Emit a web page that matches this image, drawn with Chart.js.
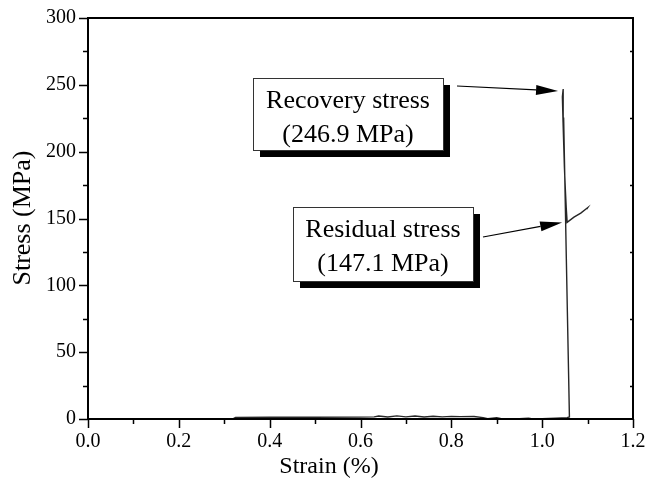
<!DOCTYPE html>
<html>
<head>
<meta charset="utf-8">
<script src="https://cdn.jsdelivr.net/npm/chart.js@4/dist/chart.umd.min.js"></script>
<style>
  html, body { margin: 0; padding: 0; background: #ffffff; }
  #wrap { width: 647px; height: 490px; }
</style>
</head>
<body>
<div id="wrap"><canvas id="c" width="647" height="490"></canvas></div>
<script>
// Constrained recovery test: stress vs. strain
const strain = [
  0.320, 0.325, 0.400, 0.500, 0.600, 0.630, 0.640, 0.660, 0.680, 0.700,
  0.720, 0.740, 0.760, 0.780, 0.800, 0.820, 0.850, 0.870, 0.880, 0.900,
  0.910, 0.930, 0.950, 0.970, 0.980, 1.000, 1.030, 1.055, 1.060, 1.0584,
  1.0555, 1.0532, 1.0507, 1.0490, 1.0473, 1.0465, 1.0460, 1.0445, 1.0460, 1.0475,
  1.0490, 1.0510, 1.0530, 1.0550, 1.0700, 1.0850, 1.1000, 1.0980
];
const stress = [
  0.3, 1.2, 1.3, 1.3, 1.4, 1.6, 2.2, 1.5, 2.3, 1.6,
  2.2, 1.5, 2.1, 1.6, 2.0, 1.8, 1.9, 1.0, 0.3, 0.9,
  0.2, 0.1, 0.2, 0.6, 0.1, 0.2, 0.6, 1.0, 1.5, 30,
  80, 120, 165, 195, 225, 238, 246.9, 241, 222, 205,
  188, 172, 158, 147.1, 151, 154, 158, 157
];
const xTickValues = [0.0, 0.2, 0.4, 0.6, 0.8, 1.0, 1.2];
const yTickValues = [0, 50, 100, 150, 200, 250, 300];
const xTitle = 'Strain (%)';
const yTitle = 'Stress (MPa)';

// Annotated points
const recoveryStrain = 1.046, recoveryStress = 246.9;
const residualStrain = 1.055, residualStress = 147.1;
const recoveryLabel = ['Recovery stress', '(' + recoveryStress.toFixed(1) + ' MPa)'];
const residualLabel = ['Residual stress', '(' + residualStress.toFixed(1) + ' MPa)'];

const SERIF = '"Liberation Serif", "Times New Roman", serif';

// Axis frame with outward major/minor ticks on the left and bottom, plus axis titles
const framePlugin = {
  id: 'frame',
  afterDatasetsDraw(chart) {
    const { ctx, chartArea: a, scales: { x, y } } = chart;
    ctx.save();
    ctx.strokeStyle = '#000';
    ctx.lineWidth = 2;
    ctx.strokeRect(a.left, a.top, a.right - a.left, a.bottom - a.top);
    ctx.lineWidth = 1.5;
    ctx.beginPath();
    for (let v = 0; v <= 300.001; v += 25) {
      const py = Math.round(y.getPixelForValue(v)) + 0.5;
      const major = Math.abs(v % 50) < 1e-6;
      ctx.moveTo(a.left, py); ctx.lineTo(a.left - (major ? 9 : 5), py);
      if (!major) { ctx.moveTo(a.right, py); ctx.lineTo(a.right - 3, py); }
    }
    for (let i = 0; i <= 12; i++) {
      const v = i * 0.1;
      const px = Math.round(x.getPixelForValue(v)) + 0.5;
      const major = i % 2 === 0;
      ctx.moveTo(px, a.bottom); ctx.lineTo(px, a.bottom + (major ? 9 : 5));
    }
    ctx.stroke();

    ctx.fillStyle = '#000';
    ctx.textAlign = 'center';
    ctx.textBaseline = 'middle';
    ctx.font = '24px ' + SERIF;
    ctx.fillText(xTitle, 329, 467);
    ctx.translate(23, 218);
    ctx.rotate(-Math.PI / 2);
    ctx.font = '26px ' + SERIF;
    ctx.fillText(yTitle, 0, 0);
    ctx.restore();
  }
};

function drawArrow(ctx, x0, y0, x1, y1) {
  const ang = Math.atan2(y1 - y0, x1 - x0);
  const hl = 22, hw = 5;
  const bx = x1 - hl * Math.cos(ang), by = y1 - hl * Math.sin(ang);
  ctx.beginPath();
  ctx.moveTo(x0, y0); ctx.lineTo(bx, by);
  ctx.stroke();
  ctx.beginPath();
  ctx.moveTo(x1, y1);
  ctx.lineTo(bx + hw * Math.sin(ang), by - hw * Math.cos(ang));
  ctx.lineTo(bx - hw * Math.sin(ang), by + hw * Math.cos(ang));
  ctx.closePath();
  ctx.fill();
}

// Shadowed callout boxes with arrows pointing at the annotated points
const calloutPlugin = {
  id: 'callouts',
  afterDatasetsDraw(chart, args, opts) {
    const { ctx, scales: { x, y } } = chart;
    ctx.save();
    for (const c of opts.items) {
      const b = c.box;
      ctx.fillStyle = '#000';
      ctx.fillRect(b.x + 7, b.y + 7, b.w, b.h);
      ctx.fillStyle = '#fff';
      ctx.fillRect(b.x, b.y, b.w, b.h);
      ctx.strokeStyle = '#333';
      ctx.lineWidth = 1;
      ctx.strokeRect(b.x + 0.5, b.y + 0.5, b.w, b.h);
      ctx.fillStyle = '#000';
      ctx.font = '26px ' + SERIF;
      ctx.textAlign = 'center';
      ctx.textBaseline = 'middle';
      c.lines.forEach((t, i) => ctx.fillText(t, b.x + b.w / 2, b.y + 23 + 34 * i));
      const tx = x.getPixelForValue(c.px) - 5;
      const ty = y.getPixelForValue(c.py) + c.dy;
      ctx.strokeStyle = '#000';
      ctx.lineWidth = 1.2;
      drawArrow(ctx, c.tail[0], c.tail[1], tx, ty);
    }
    ctx.restore();
  }
};

new Chart(document.getElementById('c'), {
  type: 'scatter',
  data: {
    datasets: [{
      data: strain.map((v, i) => ({ x: v, y: stress[i] })),
      showLine: true,
      borderColor: '#262626',
      borderWidth: 1.4,
      pointRadius: 0,
      tension: 0
    }]
  },
  options: {
    responsive: false,
    animation: false,
    devicePixelRatio: 1,
    layout: { padding: { left: 0, right: 14, top: 18, bottom: 0 } },
    plugins: {
      legend: { display: false },
      tooltip: { enabled: false },
      callouts: {
        items: [
          { box: { x: 253, y: 78, w: 190, h: 72 }, lines: recoveryLabel,
            px: recoveryStrain, py: recoveryStress, dy: 2, tail: [457, 86] },
          { box: { x: 293, y: 207, w: 180, h: 74 }, lines: residualLabel,
            px: residualStrain, py: residualStress, dy: 0, tail: [483, 237] }
        ]
      }
    },
    scales: {
      x: {
        type: 'linear', min: 0, max: 1.2,
        afterFit(s) { s.height = 71; s.paddingLeft = 0; s.paddingRight = 0; },
        afterBuildTicks(s) { s.ticks = xTickValues.map(v => ({ value: v })); },
        grid: { display: false, drawTicks: false },
        border: { display: false },
        ticks: {
          padding: 11, color: '#000',
          font: { family: SERIF, size: 20 },
          callback: v => Number(v).toFixed(1)
        },
        title: { display: false }
      },
      y: {
        type: 'linear', min: 0, max: 300,
        afterFit(s) { s.width = 88; s.paddingTop = 0; s.paddingBottom = 0; },
        afterBuildTicks(s) { s.ticks = yTickValues.map(v => ({ value: v })); },
        grid: { display: false, drawTicks: false },
        border: { display: false },
        ticks: {
          padding: 12, color: '#000',
          font: { family: SERIF, size: 20 },
          callback: v => String(v)
        },
        title: { display: false }
      }
    }
  },
  plugins: [framePlugin, calloutPlugin]
});
</script>
</body>
</html>
